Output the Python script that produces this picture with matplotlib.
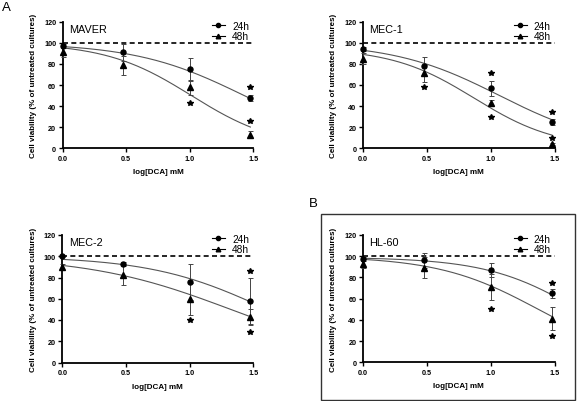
import numpy as np
import matplotlib
matplotlib.use("Agg")
import matplotlib.pyplot as plt
from matplotlib.lines import Line2D
from matplotlib.patches import Rectangle

plt.rcParams['font.family'] = ['Liberation Sans', 'DejaVu Sans']

# ---- data ----
log_dca = [0.0, 0.477, 1.0, 1.477]
panel_names = ["MAVER", "MEC-1", "MEC-2", "HL-60"]

maver_24 = [97, 91, 75, 48]
maver_24_err = [2, 8, 11, 3]
maver_48 = [91, 79, 58, 13]
maver_48_err = [4, 9, 7, 3]

mec1_24 = [94, 78, 57, 25]
mec1_24_err = [2, 9, 7, 3]
mec1_48 = [85, 71, 43, 4]
mec1_48_err = [5, 8, 3, 1]

mec2_24 = [100, 93, 76, 58]
mec2_24_err = [1, 2, 17, 22]
mec2_48 = [90, 82, 60, 43]
mec2_48_err = [3, 9.5, 15, 7.5]

hl60_24 = [97.5, 96, 87, 65]
hl60_24_err = [2, 7, 7, 4]
hl60_48 = [93, 89, 71, 41]
hl60_48_err = [4, 10, 12, 11]

# fitted dose-response curve parameters (top, logIC50, hill slope)
fit_24 = [(100, 1.429, 1.01), (100, 1.067, 1.05), (100, 1.609, 0.944), (99, 1.688, 1.2)]
fit_48 = [(100, 1.014, 1.29), (95, 0.87, 1.35), (100, 1.322, 0.776), (100, 1.369, 1.11)]

# significance asterisks (x, y)
stars = [
    [(1.477, 58), (1.0, 43), (1.477, 26)],
    [(0.477, 58), (1.0, 71), (1.0, 30), (1.477, 34), (1.477, 10)],
    [(1.0, 40), (1.477, 86.5), (1.477, 29)],
    [(1.477, 75), (1.0, 50.6), (1.477, 25)],
]

x_ticks = [0.0, 0.5, 1.0, 1.5]
y_ticks = [0, 20, 40, 60, 80, 100, 120]
control_level = 100

series_24 = [maver_24, mec1_24, mec2_24, hl60_24]
series_24_err = [maver_24_err, mec1_24_err, mec2_24_err, hl60_24_err]
series_48 = [maver_48, mec1_48, mec2_48, hl60_48]
series_48_err = [maver_48_err, mec1_48_err, mec2_48_err, hl60_48_err]

# ---- figure ----
W, H = 579, 402
fig = plt.figure(figsize=(W / 100, H / 100), dpi=100)

# axes boxes in pixels: left, right, top, bottom
boxes = [(62.5, 253.3, 22.8, 149.3), (362.7, 555, 22.7, 149.3),
         (62.3, 253.3, 236, 363.5), (362.7, 555, 236, 363.3)]


def curve(params, xs):
    top, c, h = params
    return top / (1 + 10 ** ((xs - c) * h))


for i, (l, r, t, b) in enumerate(boxes):
    ax = fig.add_axes([l / W, 1 - b / H, (r - l) / W, (b - t) / H])
    ax.set_xlim(0, 1.5)
    ax.set_ylim(0, 120)
    for s in ['top', 'right']:
        ax.spines[s].set_visible(False)
    for s in ['left', 'bottom']:
        ax.spines[s].set_linewidth(1.3)
    ax.set_xticks(x_ticks)
    ax.set_xticklabels([f"{v:.1f}" for v in x_ticks])
    ax.set_yticks(y_ticks)
    ax.tick_params(axis='both', length=3, width=1.0, labelsize=5.2, pad=1.5)
    for lab in ax.get_xticklabels() + ax.get_yticklabels():
        lab.set_fontweight('bold')
    ax.set_xlabel("log[DCA] mM", fontsize=5.8, fontweight='bold', labelpad=5)
    ax.set_ylabel("Cell viability (% of untreated cultures)", fontsize=5.8,
                  fontweight='bold', labelpad=5)

    ax.axhline(control_level, color='black', lw=1.2, ls=(0, (3, 2)), zorder=1)

    xs = np.linspace(0, 1.477, 200)
    ax.plot(xs, curve(fit_24[i], xs), color='#555555', lw=0.8, zorder=2)
    ax.plot(xs, curve(fit_48[i], xs), color='#555555', lw=0.8, zorder=2)

    ax.errorbar(log_dca, series_24[i], yerr=series_24_err[i], fmt='o', ms=3.6,
                color='black', ecolor='#444444', elinewidth=0.7, capsize=1.8,
                capthick=0.7, clip_on=False, zorder=4)
    ax.errorbar(log_dca, series_48[i], yerr=series_48_err[i], fmt='^', ms=3.9,
                color='black', ecolor='#444444', elinewidth=0.7, capsize=1.8,
                capthick=0.7, clip_on=False, zorder=4)

    sx = [p[0] for p in stars[i]]
    sy = [p[1] for p in stars[i]]
    ax.plot(sx, sy, ls='none', marker='*', ms=4.2, color='black', clip_on=False, zorder=5)

    ax.text(0.035, 0.985, panel_names[i], transform=ax.transAxes, fontsize=7.8,
            va='top', ha='left')

    handles = [Line2D([], [], color='black', lw=0.8, marker='o', ms=3),
               Line2D([], [], color='black', lw=0.8, marker='^', ms=3.3)]
    ax.legend(handles, ["24h", "48h"], loc='upper right', frameon=False,
              fontsize=7.3, handlelength=1.3, handletextpad=0.7,
              labelspacing=0.05, borderaxespad=0.0, bbox_to_anchor=(1.0, 1.04))

fig.text(2 / W, 1 - 8 / H, "A", fontsize=9.5, ha='left', va='center')
fig.text(309 / W, 1 - 204 / H, "B", fontsize=9.5, ha='left', va='center')
fig.patches.append(Rectangle((321 / W, 1 - 401 / H), (575 - 321) / W, (401 - 215) / H,
                             transform=fig.transFigure, fill=False, lw=1.0,
                             edgecolor='#333333'))

fig.savefig("out.png", dpi=100)
